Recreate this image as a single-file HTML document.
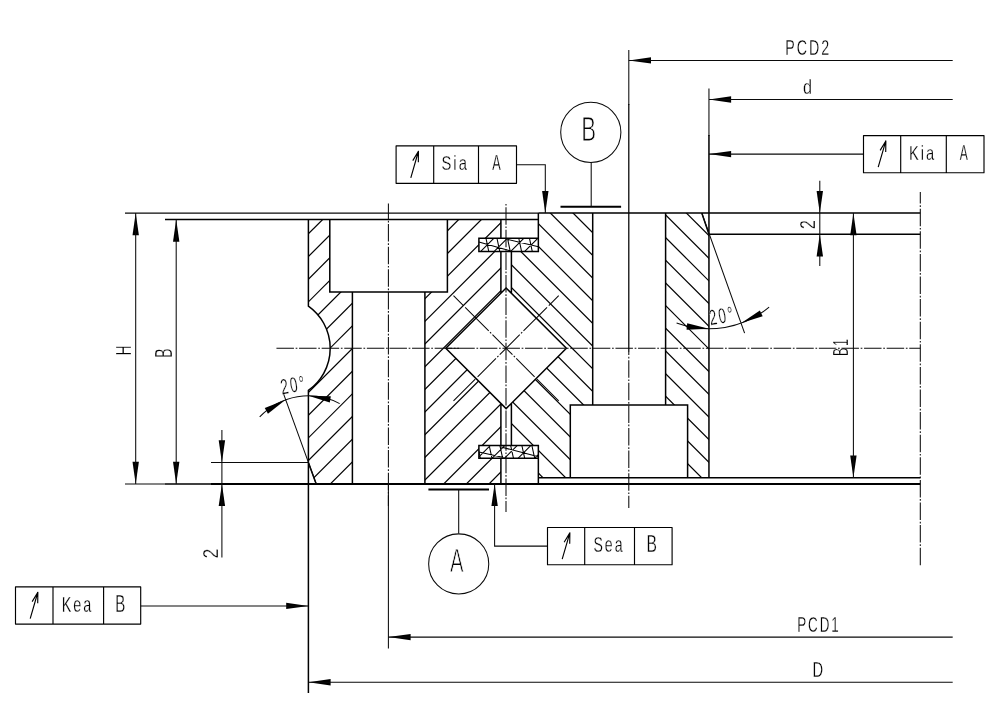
<!DOCTYPE html>
<html><head><meta charset="utf-8"><title>Crossed roller bearing - runout tolerances</title>
<style>html,body{margin:0;padding:0;background:#fff}svg{display:block}</style></head>
<body>
<svg width="1002" height="713" viewBox="0 0 1002 713">
<rect width="1002" height="713" fill="#fff"/>
<defs>
<clipPath id="co"><path clip-rule="evenodd" d="M308.4,219.5 H500.9 V293.20 L445.80,348.3 L500.9,403.40 V483.9 H316.2 L308.4,462.4 V390.48 A51.7,51.7 0 0 0 308.4,306.12 Z
M329.8,219.5 H447.4 V292.0 H329.8 Z M352.4,292.0 H424.9 V483.9 H352.4 Z
M478.9,238.3 H500.9 V251.6 H478.9 Z M478.9,445.6 H500.9 V458.3 H478.9 Z"/></clipPath>
<clipPath id="ci"><path clip-rule="evenodd" d="M538.35,213.1 H701.8 L708.95,234.2 V477.8 H538.35 V445.6 H511.4 V403.30 L566.40,348.3 L511.4,293.30 V251.6 H538.35 Z
M592.7,213.1 H665.6 V405.0 H592.7 Z M570.3,405.0 H687.6 V477.8 H570.3 Z"/></clipPath>
</defs>
<style>
.o{stroke:#000;stroke-width:1.5;fill:none}
.k{stroke:#000;stroke-width:1.95;fill:none}
.h{stroke:#000;stroke-width:1.22;fill:none}
.t{stroke:#0a0a0a;stroke-width:1.05;fill:none}
.c{stroke:#0a0a0a;stroke-width:1.05;fill:none;stroke-dasharray:17.5 1.7 1.7 1.7}
.c2{stroke:#0a0a0a;stroke-width:1.05;fill:none;stroke-dasharray:17.5 1.7 1.7 1.7}
.a{fill:#000;stroke:none}
.f{stroke:#000;stroke-width:1.15;fill:none;stroke-linejoin:round}
text{font-family:"Liberation Sans",sans-serif;font-size:20px;letter-spacing:2.8px;fill:#000;stroke:#fff;stroke-width:0.26px;paint-order:fill stroke}
.big{stroke-width:0.55px}
</style>
<g class="h" clip-path="url(#co)">
<path d="M319.56,200 L19.56,500"/>
<path d="M342.23,200 L42.23,500"/>
<path d="M364.90,200 L64.90,500"/>
<path d="M387.57,200 L87.57,500"/>
<path d="M410.24,200 L110.24,500"/>
<path d="M432.91,200 L132.91,500"/>
<path d="M455.58,200 L155.58,500"/>
<path d="M478.25,200 L178.25,500"/>
<path d="M500.92,200 L200.92,500"/>
<path d="M523.59,200 L223.59,500"/>
<path d="M546.26,200 L246.26,500"/>
<path d="M568.93,200 L268.93,500"/>
<path d="M591.60,200 L291.60,500"/>
<path d="M614.27,200 L314.27,500"/>
<path d="M636.94,200 L336.94,500"/>
<path d="M659.61,200 L359.61,500"/>
<path d="M682.28,200 L382.28,500"/>
<path d="M704.95,200 L404.95,500"/>
<path d="M727.62,200 L427.62,500"/>
<path d="M750.29,200 L450.29,500"/>
<path d="M772.96,200 L472.96,500"/>
<path d="M795.63,200 L495.63,500"/>
<path d="M818.30,200 L518.30,500"/>
</g>
<g class="h" clip-path="url(#ci)">
<path d="M219.94,200 L519.94,500"/>
<path d="M242.61,200 L542.61,500"/>
<path d="M265.28,200 L565.28,500"/>
<path d="M287.95,200 L587.95,500"/>
<path d="M310.62,200 L610.62,500"/>
<path d="M333.29,200 L633.29,500"/>
<path d="M355.96,200 L655.96,500"/>
<path d="M378.63,200 L678.63,500"/>
<path d="M401.30,200 L701.30,500"/>
<path d="M423.97,200 L723.97,500"/>
<path d="M446.64,200 L746.64,500"/>
<path d="M469.31,200 L769.31,500"/>
<path d="M491.98,200 L791.98,500"/>
<path d="M514.65,200 L814.65,500"/>
<path d="M537.32,200 L837.32,500"/>
<path d="M559.99,200 L859.99,500"/>
<path d="M582.66,200 L882.66,500"/>
<path d="M605.33,200 L905.33,500"/>
<path d="M628.00,200 L928.00,500"/>
<path d="M650.67,200 L950.67,500"/>
<path d="M673.34,200 L973.34,500"/>
<path d="M696.01,200 L996.01,500"/>
<path d="M718.68,200 L1018.68,500"/>
</g>
<path class="o" d="M165,219.5 H538.35 M308.4,219.5 V306.12 A51.7,51.7 0 0 1 308.4,390.48 V483.9 M308.4,462.4 L316.2,483.9 M329.8,219.5 V292.0 H447.4 V219.5 M352.4,292.0 V483.9 M424.9,292.0 V483.9 M500.9,219.5 V238.3 M500.9,251.6 V293.20 M500.9,403.40 V445.6 M500.9,458.3 V483.9 M511.4,251.6 V293.30 M511.4,403.30 V445.6 M506.1,288.0 L566.4,348.3 L506.1,408.6 L445.8,348.3 Z M478.9,238.3 H538.35 V251.6 H478.9 Z M478.9,445.6 H538.35 V458.3 H478.9 Z M538.35,213.1 H920.3 M538.35,213.1 V238.3 M538.35,458.3 V483.9 M538.35,477.8 H920.3 M592.7,213.1 V405.0 M665.6,213.1 V405.0 M570.3,477.8 V405.0 H687.6 V477.8 M708.95,213.1 V477.8 M701.8,213.1 L708.95,234.2 H920.3"/>
<path class="o" d="M165,483.9 H212"/>
<path class="k" d="M211,483.9 H920.3"/>
<path class="k" d="M560.5,206.8 H621.1 M428.4,489.5 H489"/>
<clipPath id="cs"><path d="M478.9,238.3 H538.35 V251.6 H478.9 Z M478.9,445.6 H538.35 V458.3 H478.9 Z"/></clipPath>
<g clip-path="url(#cs)" class="h" style="stroke-width:1.05">
<path d="M480.5,251.6 L493.8,238.3 M494.0,251.6 L507.3,238.3 M510.5,251.6 L523.8,238.3 M524.5,251.6 L537.8,238.3 M486.0,238.3 L488.8,251.6 M497.0,238.3 L499.8,251.6 M507.5,238.3 L510.3,251.6 M518.8,238.3 L521.6,251.6 M529.5,238.3 L532.3,251.6 M478.9,241.9 L509.9,250.8 M506.4,239.1 L538.4,246.8"/>
<path d="M477.5,458.3 L490.2,445.6 M492.0,458.3 L504.7,445.6 M504.4,458.3 L517.1,445.6 M518.0,458.3 L530.7,445.6 M534.6,458.3 L547.3,445.6 M477.6,445.6 L480.4,458.3 M489.2,445.6 L492.0,458.3 M499.9,445.6 L502.7,458.3 M510.7,445.6 L513.5,458.3 M521.9,445.6 L524.7,458.3 M531.9,445.6 L534.7,458.3 M478.9,452.1 L503.5,457.6 M500.3,446.8 L538.4,456.8"/>
</g>
<path class="c" d="M276.45,348.3 H920.3"/>
<path class="t" d="M447,348.3 H459"/>
<path class="c" style="stroke-dashoffset:2.1" d="M388.4,203.6 V506"/>
<path class="t" d="M388.4,483.9 V648.4"/>
<path class="c" style="stroke-dashoffset:19.4" d="M506.0,204 V512"/>
<path class="t" d="M628.8,50 V105"/>
<path class="o" style="stroke-width:1.25" d="M628.8,104 V352"/>
<path class="c" style="stroke-dashoffset:14.4" d="M628.8,352 V508"/>
<path class="c" style="stroke-dashoffset:5.9" d="M920.3,192 V566"/>
<path class="t" style="stroke-dasharray:14 2.5 33.3 1.8 1.7 1.8 28.3 1.8 1.7 1.8 26 3.3 40" d="M453.50,295.70 L558.70,400.90"/>
<path class="t" style="stroke-dasharray:14 2.5 33.3 1.8 1.7 1.8 28.3 1.8 1.7 1.8 26 3.3 40" d="M558.70,295.70 L453.50,400.90"/>
<polygon class="a" points="135.70,213.10 138.90,235.30 132.50,235.30"/>
<polygon class="a" points="135.70,483.90 132.50,461.70 138.90,461.70"/>
<polygon class="a" points="176.20,219.50 179.40,241.70 173.00,241.70"/>
<polygon class="a" points="176.20,483.90 173.00,461.70 179.40,461.70"/>
<polygon class="a" points="853.40,213.10 856.60,235.30 850.20,235.30"/>
<polygon class="a" points="853.40,477.80 850.20,455.60 856.60,455.60"/>
<polygon class="a" points="819.80,213.10 816.60,190.90 823.00,190.90"/>
<polygon class="a" points="819.80,234.20 823.00,256.40 816.60,256.40"/>
<polygon class="a" points="221.90,462.40 218.70,440.20 225.10,440.20"/>
<polygon class="a" points="221.90,483.90 225.10,506.10 218.70,506.10"/>
<polygon class="a" points="628.80,60.40 651.00,57.20 651.00,63.60"/>
<polygon class="a" points="708.95,99.50 731.15,96.30 731.15,102.70"/>
<polygon class="a" points="708.95,154.10 731.15,150.90 731.15,157.30"/>
<polygon class="a" points="388.40,637.10 410.60,633.90 410.60,640.30"/>
<polygon class="a" points="308.40,682.30 330.60,679.10 330.60,685.50"/>
<polygon class="a" points="308.40,605.90 286.20,609.10 286.20,602.70"/>
<polygon class="a" points="545.30,213.10 542.10,190.90 548.50,190.90"/>
<polygon class="a" points="494.60,483.90 497.80,506.10 491.40,506.10"/>
<path class="t" d="M125,213.1 H538.35 M125,483.9 H165 M135.7,213.1 V483.9 M176.2,219.5 V483.9 M853.4,213.1 V477.8 M819.8,180.7 V266 M211,462.4 H308.4 M221.9,430 V557.4 M628.8,60.4 H952.7 M708.95,88.6 V136 M708.95,99.5 H952.7 M708.95,154.1 H863.5 M388.4,637.1 H952.7 M308.4,682.3 H952.7 M140.8,605.9 H308.4 M516.5,164.8 H545.3 V213.1 M547.4,546.1 H494.6 V483.9 M591.2,162.3 V206.8 M458.7,489.5 V533.5 M701.8,213.1 L744.6,333.1 M316.2,483.9 L283.2,392.9 M676.59,323.09 A94.6,94.6 0 0 0 769.12,307.20 M259.69,416.98 A66.6,66.6 0 0 1 339.67,403.60"/>
<path class="o" d="M708.95,135 V213.1 M308.4,483.9 V693"/>
<polygon class="a" points="708.95,328.80 686.54,329.66 687.21,323.30"/>
<polygon class="a" points="741.31,323.09 759.86,310.49 762.66,316.24"/>
<polygon class="a" points="308.40,395.80 330.83,396.23 329.79,402.55"/>
<polygon class="a" points="285.62,399.82 267.95,413.63 264.77,408.07"/>
<circle class="t" cx="590.8" cy="132.3" r="30.1"/>
<circle class="t" cx="458.7" cy="563.9" r="30.05"/>
<path class="f" d="M863.5,135.6 H984 V172.7 H863.5 Z M900.7,135.6 V172.7 M946.3,135.6 V172.7 M878.20,167.20 L885.85,140.95 M880.14,150.35 L885.85,140.95 L885.71,151.95"/>
<path class="f" d="M396.1,145.9 H516.5 V183.3 H396.1 Z M433.7,145.9 V183.3 M478.5,145.9 V183.3 M410.80,177.80 L418.45,151.25 M412.77,160.67 L418.45,151.25 L418.34,162.25"/>
<path class="f" d="M547.5,527.5 H672.1 V564.7 H547.5 Z M584.7,527.5 V564.7 M634.5,527.5 V564.7 M562.20,559.20 L569.85,532.85 M564.15,542.26 L569.85,532.85 L569.72,543.85"/>
<path class="f" d="M15.5,586.9 H140.7 V624.1 H15.5 Z M53.0,586.9 V624.1 M103.6,586.9 V624.1 M30.20,618.60 L37.85,592.25 M32.15,601.66 L37.85,592.25 L37.72,603.25"/>
<g opacity="0.999">
<text transform="matrix(0.7111 0 0 1.0986 785.31 55.48)">PCD2</text>
<text transform="matrix(0.8111 0 0 1.0405 803.00 94.49)">d</text>
<text transform="matrix(0.7333 0 0 1.0338 908.88 159.59)">Kia</text>
<text transform="matrix(0.6061 0 0 1.1087 959.85 159.80)">A</text>
<text transform="matrix(0.7381 0 0 1.0338 441.41 169.89)">Sia</text>
<text transform="matrix(0.6364 0 0 1.1087 492.15 170.10)">A</text>
<text class="big" transform="matrix(1.1132 0 0 1.7174 581.27 140.60)">B</text>
<text class="big" transform="matrix(1.0152 0 0 1.6884 449.95 572.20)">A</text>
<text transform="matrix(0.7065 0 0 1.1338 593.44 551.87)">Sea</text>
<text transform="matrix(0.7830 0 0 1.1667 646.50 552.10)">B</text>
<text transform="matrix(0.7197 0 0 1.1357 61.70 611.77)">Kea</text>
<text transform="matrix(0.7547 0 0 1.1522 115.34 612.00)">B</text>
<text transform="matrix(0.6706 0 0 1.0845 797.28 632.28)">PCD1</text>
<text transform="matrix(0.7373 0 0 1.0870 812.57 677.40)">D</text>
<text transform="matrix(0 -0.6696 1.1377 0 131.20 355.22)">H</text>
<text transform="matrix(0 -0.7170 1.1522 0 171.50 358.10)">B</text>
<text transform="matrix(0 -0.7935 1.0929 0 815.00 228.94)">2</text>
<text transform="matrix(0 -0.6138 1.1304 0 848.40 355.93)">B1</text>
<text transform="matrix(0 -0.8804 1.1357 0 217.50 558.43)">2</text>
<text transform="translate(292.50 385.00) rotate(-10) scale(0.6726 1.0775) translate(-17.80 6.90)">20°</text>
<text transform="translate(721.00 315.90) rotate(-10) scale(0.6726 1.0775) translate(-17.80 6.90)">20°</text>
</g>
</svg>
</body></html>
